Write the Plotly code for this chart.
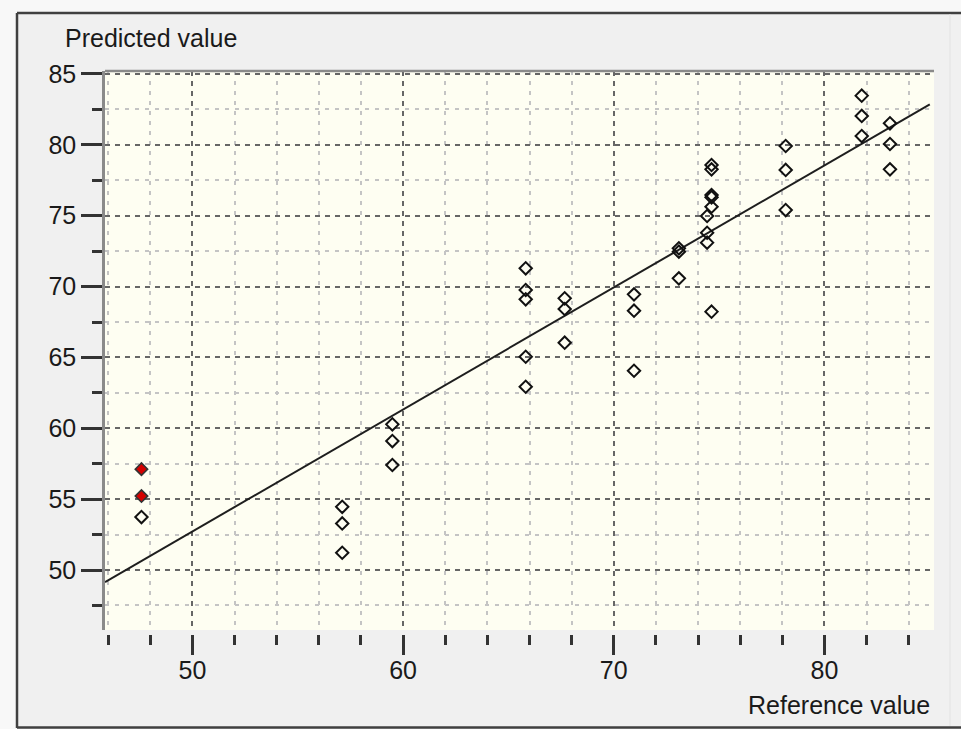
import plotly.graph_objects as go

# ---- data ----
ref_open = [47.58,
            57.11, 57.11, 57.11,
            59.49, 59.49, 59.49,
            65.82, 65.82, 65.82, 65.82, 65.82,
            67.67, 67.67, 67.67,
            70.96, 70.96, 70.96,
            73.09, 73.09, 73.09,
            74.43, 74.43, 74.43,
            74.64, 74.64, 74.64, 74.64, 74.64, 74.64,
            78.16, 78.16, 78.16,
            81.77, 81.77, 81.77,
            83.11, 83.11, 83.11]
pred_open = [53.74,
             54.46, 53.29, 51.22,
             60.28, 59.10, 57.41,
             71.29, 69.76, 69.10, 65.05, 62.93,
             69.17, 68.42, 66.04,
             69.45, 68.30, 64.06,
             72.70, 72.46, 70.58,
             74.98, 73.80, 73.10,
             78.58, 78.27, 76.46, 76.30, 75.63, 68.23,
             79.92, 78.23, 75.40,
             83.47, 82.04, 80.62,
             81.52, 80.06, 78.27]
ref_red = [47.58, 47.58]
pred_red = [57.12, 55.22]
line_x = [45.85, 85.0]
line_y = [49.15, 82.85]

x_range = [45.85, 85.2]
y_range = [45.77, 85.21]

FONT = "Liberation Sans, Arial, sans-serif"
TXT = "#1a1a1a"
FS = 25
W, H = 961, 729
ML, MR, MT, MB = 105, 27, 71, 95
PW, PH = W - ML - MR, H - MT - MB
gap = 4 / PH

fig = go.Figure()
fig.add_trace(go.Scatter(x=line_x, y=line_y, mode="lines",
                         line=dict(color="#1e1e1e", width=2),
                         hoverinfo="skip", showlegend=False))
fig.add_trace(go.Scatter(x=ref_open, y=pred_open, mode="markers",
                         marker=dict(symbol="diamond-open", size=9.5, color="#111111",
                                     line=dict(width=2, color="#111111")),
                         showlegend=False))
fig.add_trace(go.Scatter(x=ref_red, y=pred_red, mode="markers",
                         marker=dict(symbol="diamond", size=9.5, color="#d40000",
                                     line=dict(width=1.6, color="#333333")),
                         showlegend=False))

def px_x(px):
    return (px - ML) / PW

def px_y(py):
    return (H - MB - py) / PH

shapes = [
    dict(type="rect", xref="paper", yref="paper", x0=px_x(0), x1=px_x(W), y0=px_y(0), y1=px_y(12),
         fillcolor="#f8f8f8", line=dict(width=0), layer="below"),
    dict(type="rect", xref="paper", yref="paper", x0=px_x(0), x1=px_x(17), y0=px_y(H), y1=px_y(0),
         fillcolor="#f8f8f8", line=dict(width=0), layer="below"),
    dict(type="line", xref="paper", yref="paper", x0=px_x(17), x1=px_x(W), y0=px_y(13), y1=px_y(13),
         line=dict(color="#404040", width=2.5)),
    dict(type="line", xref="paper", yref="paper", x0=px_x(17), x1=px_x(17), y0=px_y(13), y1=px_y(728),
         line=dict(color="#404040", width=2.5)),
    dict(type="line", xref="paper", yref="paper", x0=px_x(17), x1=px_x(W), y0=px_y(727.5), y1=px_y(727.5),
         line=dict(color="#404040", width=2.5)),
    dict(type="line", xref="paper", yref="paper", x0=px_x(950), x1=px_x(950), y0=px_y(14), y1=px_y(726),
         line=dict(color="#e2e2e2", width=1)),
    dict(type="line", xref="x domain", yref="y domain", x0=0, x1=1, y0=1, y1=1,
         line=dict(color="#8a8a8a", width=2.5)),
]

fig.update_layout(
    width=W, height=H,
    margin=dict(l=ML, r=MR, t=MT, b=MB, pad=0),
    paper_bgcolor="#f0f0f0",
    plot_bgcolor="#fefef2",
    font=dict(family=FONT, size=FS, color=TXT),
    shapes=shapes,
    showlegend=False,
    xaxis=dict(range=x_range, anchor="free", position=0,
               tickmode="linear", tick0=0, dtick=10,
               ticks="outside", ticklen=20, tickwidth=3, tickcolor="#333333",
               ticklabelstandoff=-6,
               showgrid=True, gridcolor="#666666", gridwidth=2, griddash="5px,5px",
               showline=False, zeroline=False,
               tickfont=dict(family=FONT, size=FS, color=TXT),
               minor=dict(tick0=0, dtick=2, ticks="outside", ticklen=10, tickwidth=3,
                          tickcolor="#333333", showgrid=True, gridcolor="#c4c4c4",
                          gridwidth=1.5, griddash="4px,6px")),
    yaxis=dict(range=y_range, domain=[gap, 1],
               tickmode="linear", tick0=0, dtick=5,
               ticks="outside", ticklen=21, tickwidth=3, tickcolor="#333333",
               showgrid=True, gridcolor="#666666", gridwidth=2, griddash="5px,5px",
               showline=True, linecolor="#8a8a8a", linewidth=2.5,
               zeroline=False,
               tickfont=dict(family=FONT, size=FS, color=TXT),
               minor=dict(tick0=0, dtick=2.5, ticks="outside", ticklen=10, tickwidth=3,
                          tickcolor="#333333", showgrid=True, gridcolor="#c4c4c4",
                          gridwidth=1.5, griddash="4px,6px")),
    annotations=[
        dict(text="Predicted value", xref="paper", yref="paper",
             x=px_x(63), y=px_y(38), xanchor="left", yanchor="middle",
             showarrow=False, font=dict(family=FONT, size=FS, color=TXT)),
        dict(text="Reference value", xref="paper", yref="paper",
             x=px_x(932), y=px_y(705), xanchor="right", yanchor="middle",
             showarrow=False, font=dict(family=FONT, size=FS, color=TXT)),
    ],
)

fig.write_html("out.html")
